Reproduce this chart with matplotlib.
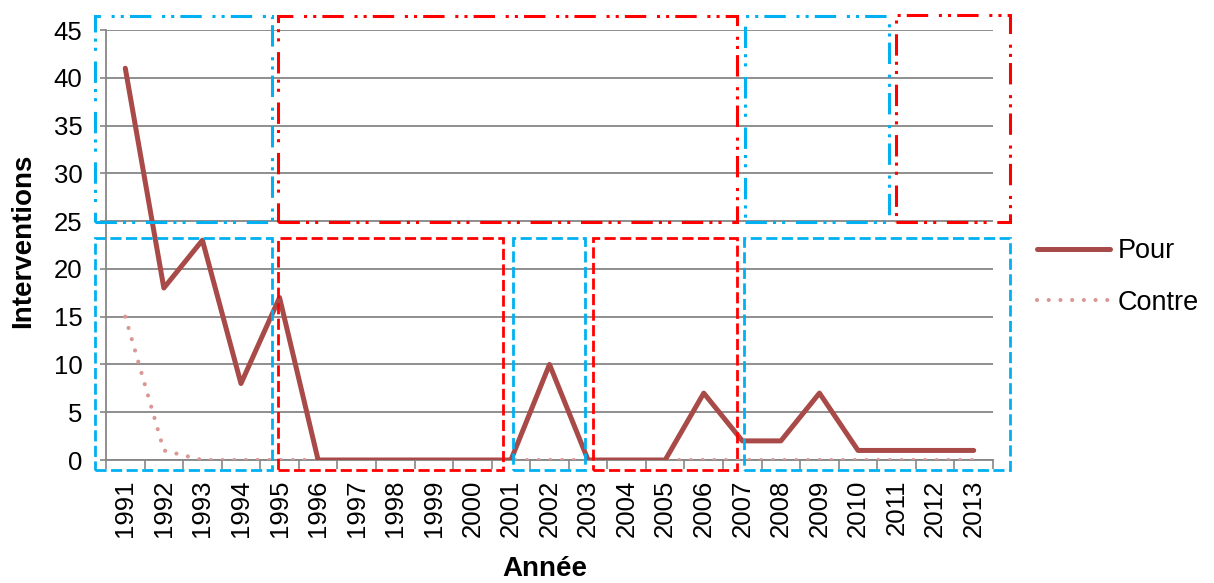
import numpy as np
import matplotlib
matplotlib.use("Agg")
import matplotlib.pyplot as plt
from matplotlib.patches import Rectangle

plt.rcParams['font.family'] = ['Liberation Sans', 'DejaVu Sans']

years = [str(y) for y in range(1991, 2014)]
pour = [41, 18, 23, 8, 17, 0, 0, 0, 0, 0, 0, 10, 0, 0, 0, 7, 2, 2, 7, 1, 1, 1, 1]
contre = [15, 1, 0, 0, 0, 0, 0, 0, 0, 0, 0, 0, 0, 0, 0, 0, 0, 0, 0, 0, 0, 0, 0]

# period boxes (x start, x end in category units), upper band and lower band
top_boxes = [(-0.79, 3.81, 'blue'), (3.97, 15.86, 'red'), (16.07, 19.81, 'blue'), (19.99, 22.93, 'red')]
top_band = (24.9, 46.5)
top_band_last = (24.9, 46.6)
bottom_boxes = [(-0.79, 3.81, 'blue'), (3.97, 9.79, 'red'), (10.05, 11.92, 'blue'),
                (12.12, 15.86, 'red'), (16.05, 22.95, 'blue')]
bottom_band = (-1.05, 23.2)

BLUE = '#00B0F0'
RED = '#FF0000'
GRID = '#868686'

W, H = 1214, 583
fig = plt.figure(figsize=(W / 100, H / 100), dpi=100)
ax = fig.add_axes([106 / W, 1 - 460 / H, (993 - 106) / W, 430 / H])

x = np.arange(len(years))
ax.plot(x, pour, color='#A84A48', lw=3.6, label='Pour', zorder=4, solid_capstyle='round')
ax.plot(x, contre, color='#D99896', lw=3.0, linestyle=(0, (0.01, 2.8)),
        dash_capstyle='round', label='Contre', zorder=3)

ax.set_xlim(-0.5, len(years) - 0.5)
ax.set_ylim(0, 45)
ax.set_yticks(range(0, 50, 5))
ax.yaxis.grid(True, color=GRID, lw=1.3, zorder=0)
ax.set_axisbelow(True)

ax.set_xticks(x)
ax.set_xticklabels(years, rotation=90, fontsize=18.5)
ax.set_xticks(np.arange(-0.5, len(years), 1), minor=True)
ax.tick_params(axis='x', which='major', length=0, pad=14)
ax.tick_params(axis='x', which='minor', length=6.5, width=1.2, color=GRID, direction='out')
ax.tick_params(axis='y', length=4, width=1.2, color=GRID, labelsize=18.5, pad=13)

for s in ['top', 'right']:
    ax.spines[s].set_visible(False)
for s in ['left', 'bottom']:
    ax.spines[s].set_color(GRID)
    ax.spines[s].set_linewidth(1.3)

dashdotdot = (0, (7, 2, 1, 2, 1, 3.5))
for i, (x0, x1, c) in enumerate(top_boxes):
    y0, y1 = top_band_last if i == len(top_boxes) - 1 else top_band
    ax.add_patch(Rectangle((x0, y0), x1 - x0, y1 - y0, fill=False,
                           edgecolor=BLUE if c == 'blue' else RED, lw=2.2,
                           linestyle=dashdotdot, clip_on=False, zorder=5))
for x0, x1, c in bottom_boxes:
    y0, y1 = bottom_band
    ax.add_patch(Rectangle((x0, y0), x1 - x0, y1 - y0, fill=False,
                           edgecolor=BLUE if c == 'blue' else RED, lw=2.0,
                           linestyle=(0, (4, 1.6)), clip_on=False, zorder=5))

fig.text(23 / W, 1 - 241 / H, 'Interventions', rotation=90, ha='center', va='center',
         fontsize=20, fontweight='bold')
fig.text(545 / W, 1 - 569 / H, 'Année', ha='center', va='center',
         fontsize=20, fontweight='bold')

leg = ax.legend(loc='upper left', bbox_to_anchor=(1037 / W, 1 - 238 / H),
                bbox_transform=fig.transFigure, frameon=False, fontsize=19.5,
                handlelength=2.7, handletextpad=0.28, labelspacing=0.95, borderpad=0,
                borderaxespad=0)

fig.savefig('out.png', dpi=100)
